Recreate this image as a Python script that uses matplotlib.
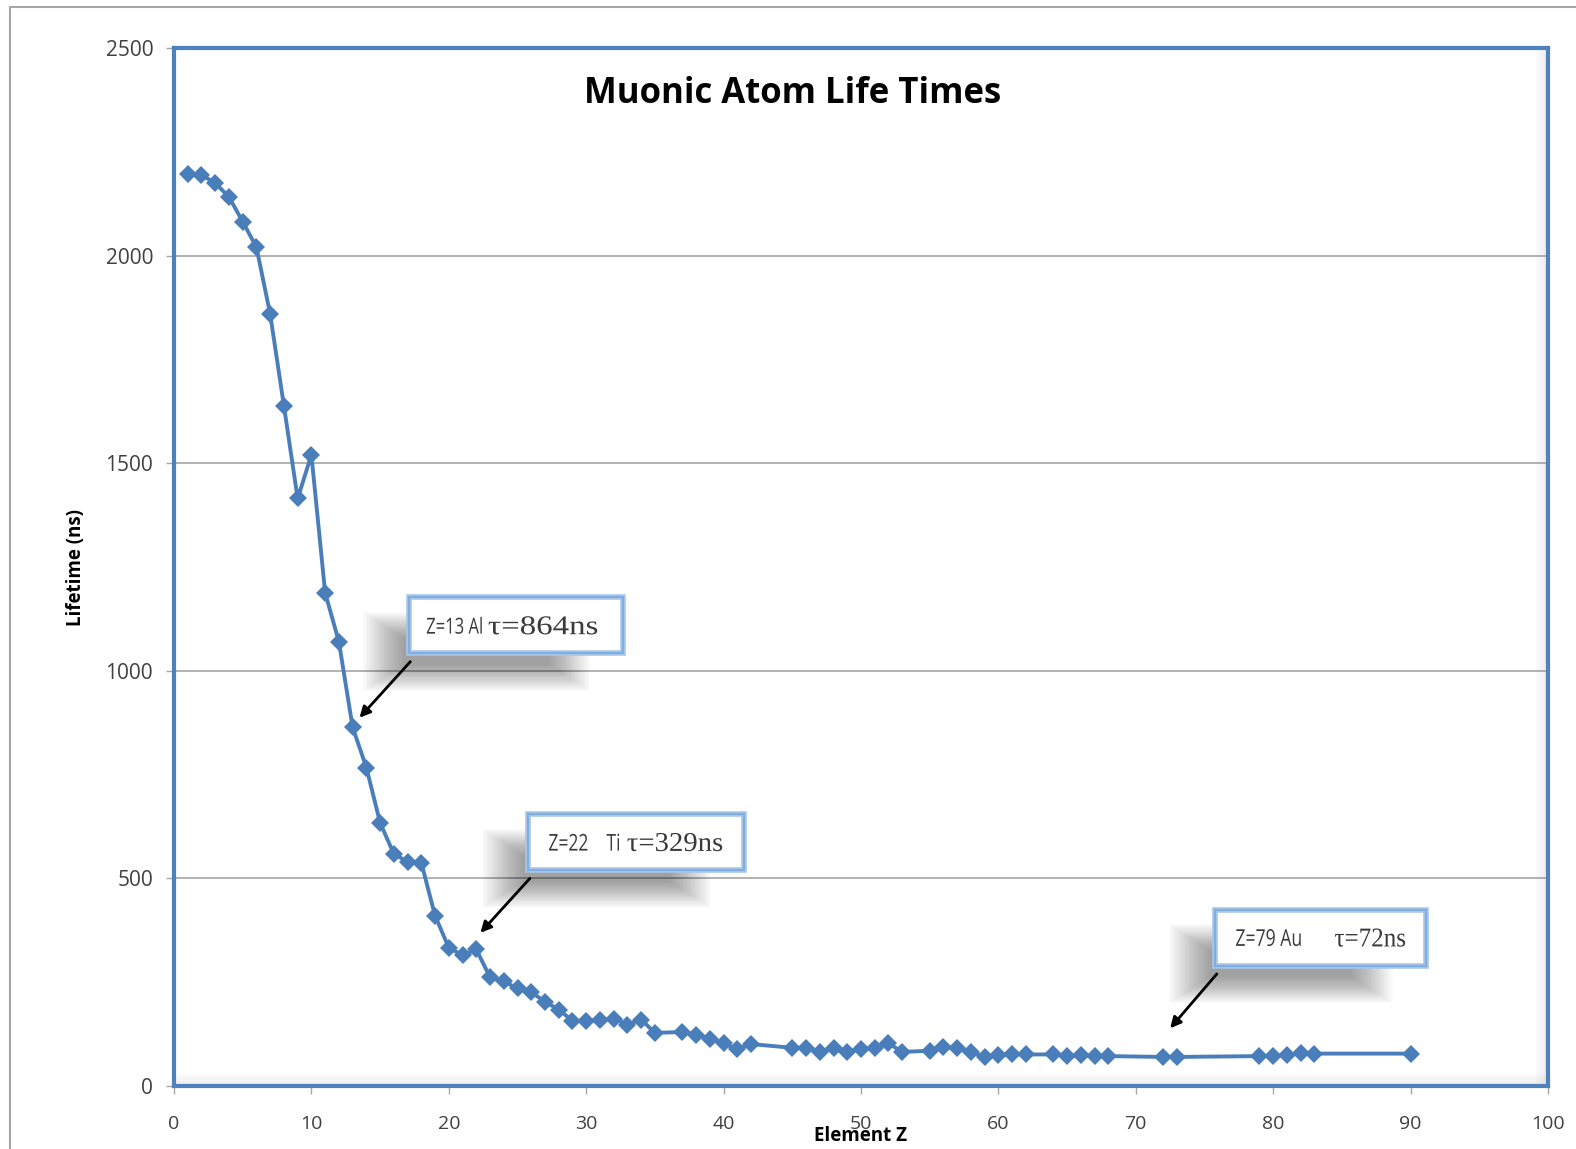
import matplotlib
matplotlib.use('Agg')
import matplotlib.pyplot as plt
from matplotlib.patches import Rectangle, PathPatch
from matplotlib.textpath import TextPath
from matplotlib.font_manager import FontProperties
from matplotlib.transforms import Affine2D

# element Z and measured muonic atom lifetime (ns)
z = [1, 2, 3, 4, 5, 6, 7, 8, 9, 10,
     11, 12, 13, 14, 15, 16, 17, 18, 19, 20,
     21, 22, 23, 24, 25, 26, 27, 28, 29, 30,
     31, 32, 33, 34, 35, 37, 38, 39, 40, 41,
     42, 45, 46, 47, 48, 49, 50, 51, 52, 53,
     55, 56, 57, 58, 59, 60, 61, 62, 64, 65,
     66, 67, 68, 72, 73, 79, 80, 81, 82, 83, 90]
lifetime = [2197, 2194, 2175, 2141, 2082, 2020, 1859, 1638, 1415, 1520,
            1188, 1070, 864, 767, 634, 559, 540, 538, 410, 333,
            315, 329, 262, 252, 235, 226, 203, 184, 157, 157,
            159, 162, 148, 160, 128, 130, 124, 114, 103, 88,
            101, 92, 92, 82, 92, 82, 89, 91, 103, 82,
            85, 95, 91, 82, 69, 75, 76, 76, 76, 72,
            74, 72, 72, 70, 70, 72, 73, 74, 79, 78, 78]

# callouts: sans part, serif part, arrow head (Z, ns)
labels_sans = ["Z=13 Al", "Z=22    Ti", "Z=79 Au"]
labels_serif = ["\u03c4=864ns", "\u03c4=329ns", "\u03c4=72ns"]
arrow_heads = [(13.5, 887), (22.3, 369), (72.5, 139)]
# box placement in data units: (left, bottom, width, height)
boxes = [(17.1, 1042, 15.6, 135),
         (25.8, 520, 15.7, 135),
         (75.8, 290, 15.3, 135)]
# text placement (data units): sans left, sans width, serif left, serif width
text_slots = [(18.4, 4.0, 22.9, 7.9),
              (27.3, 5.1, 33.0, 6.9),
              (77.3, 4.7, 84.5, 5.1)]

blue = '#4A7EBB'

fig = plt.figure(figsize=(15.76, 11.49), dpi=100)
ax = fig.add_axes([174/1576, 1 - 1086/1149, (1548-174)/1576, (1086-48)/1149])

# outer chart border
fig.patches.append(Rectangle((10/1576, -0.05), 1.1, 1 - 7/1149 + 0.05,
                             transform=fig.transFigure, fill=False,
                             edgecolor='#A6A6A6', lw=1.5))

ax.plot(z, lifetime, color=blue, lw=2.8, marker='D', ms=9,
        markeredgewidth=0, zorder=5, clip_on=False)

ax.set_xlim(0, 100)
ax.set_ylim(0, 2500)
ax.set_xticks(range(0, 101, 10))
ax.set_yticks(range(0, 2501, 500))
ax.yaxis.grid(True, color='#A6A6A6', lw=1.2)
ax.set_axisbelow(True)
for s in ax.spines.values():
    s.set_color('#4F81BD')
    s.set_linewidth(3)
ax.tick_params(colors='#404040', length=6, width=1)
ax.tick_params(axis='x', color='#A6A6A6', pad=15, labelsize=14)
ax.tick_params(axis='y', color='#A6A6A6', pad=9, labelsize=15)
for lab in ax.get_xticklabels() + ax.get_yticklabels():
    lab.set_family('Open Sans')

# inner shadow along right and bottom edges
for i in range(6):
    a = 0.12 - i * 0.018
    ax.add_patch(Rectangle((1 - 0.003 - i * 0.0012, 0), 0.0012, 1,
                           transform=ax.transAxes, color='gray', alpha=a, lw=0, zorder=1))
    ax.add_patch(Rectangle((0, 0.002 + i * 0.0016), 1, 0.0016,
                           transform=ax.transAxes, color='gray', alpha=a, lw=0, zorder=1))

ax.text(0.45, 0.956, 'Muonic Atom Life Times', transform=ax.transAxes,
        fontsize=25, fontweight='bold', family='Open Sans', color='black',
        ha='center', va='center')
ax.set_xlabel('Element Z', fontsize=13.5, fontweight='bold', family='Open Sans', labelpad=-5)
ax.set_ylabel('Lifetime (ns)', fontsize=13.5, fontweight='bold', family='Open Sans', labelpad=14)


def fitted_text(s, family, x, w, yc, h):
    # draw text stretched to fill a given width and glyph height (data units)
    tp = TextPath((0, 0), s, size=100, prop=FontProperties(family=family))
    ext = tp.get_extents()
    x0, y0 = ax.transData.transform((x, yc - h / 2))
    x1, y1 = ax.transData.transform((x + w, yc + h / 2))
    tr = (Affine2D().translate(-ext.x0, -ext.y0)
          .scale((x1 - x0) / ext.width, (y1 - y0) / ext.height)
          .translate(x0, y0))
    p = PathPatch(tp, transform=tr, facecolor='#3A3A3A', lw=0, zorder=8, clip_on=False)
    fig.patches.append(p)


for sans, serif, head, (bx, by, bw, bh), (sx, sw, rx, rw) in zip(
        labels_sans, labels_serif, arrow_heads, boxes, text_slots):
    # soft drop shadow, offset left/down
    cx, cy = bx + bw / 2 - 2.9, by + bh / 2 - 63
    for k in range(26):
        w = bw - 5 + k * 0.24
        h = bh - 70 + k * 5
        ax.add_patch(Rectangle((cx - w / 2, cy - h / 2), w, h,
                               color='black', alpha=0.017, lw=0, zorder=6))
    ax.add_patch(Rectangle((bx, by), bw, bh, facecolor='white',
                           edgecolor='#A7C5E8', lw=4, zorder=7))
    ax.add_patch(Rectangle((bx, by), bw, bh, fill=False,
                           edgecolor='#7FAEE0', lw=1.5, zorder=7))
    ym = by + bh / 2
    fitted_text(sans, 'Open Sans', sx, sw, ym, 41)
    fitted_text(serif, 'Liberation Serif', rx, rw, ym, 44)
    ax.annotate('', xy=head, xytext=(bx + 0.1, by - 20),
                arrowprops=dict(arrowstyle='-|>', color='black', lw=2,
                                mutation_scale=16, shrinkA=0, shrinkB=0),
                zorder=8)

fig.savefig('out.png', dpi=100)
